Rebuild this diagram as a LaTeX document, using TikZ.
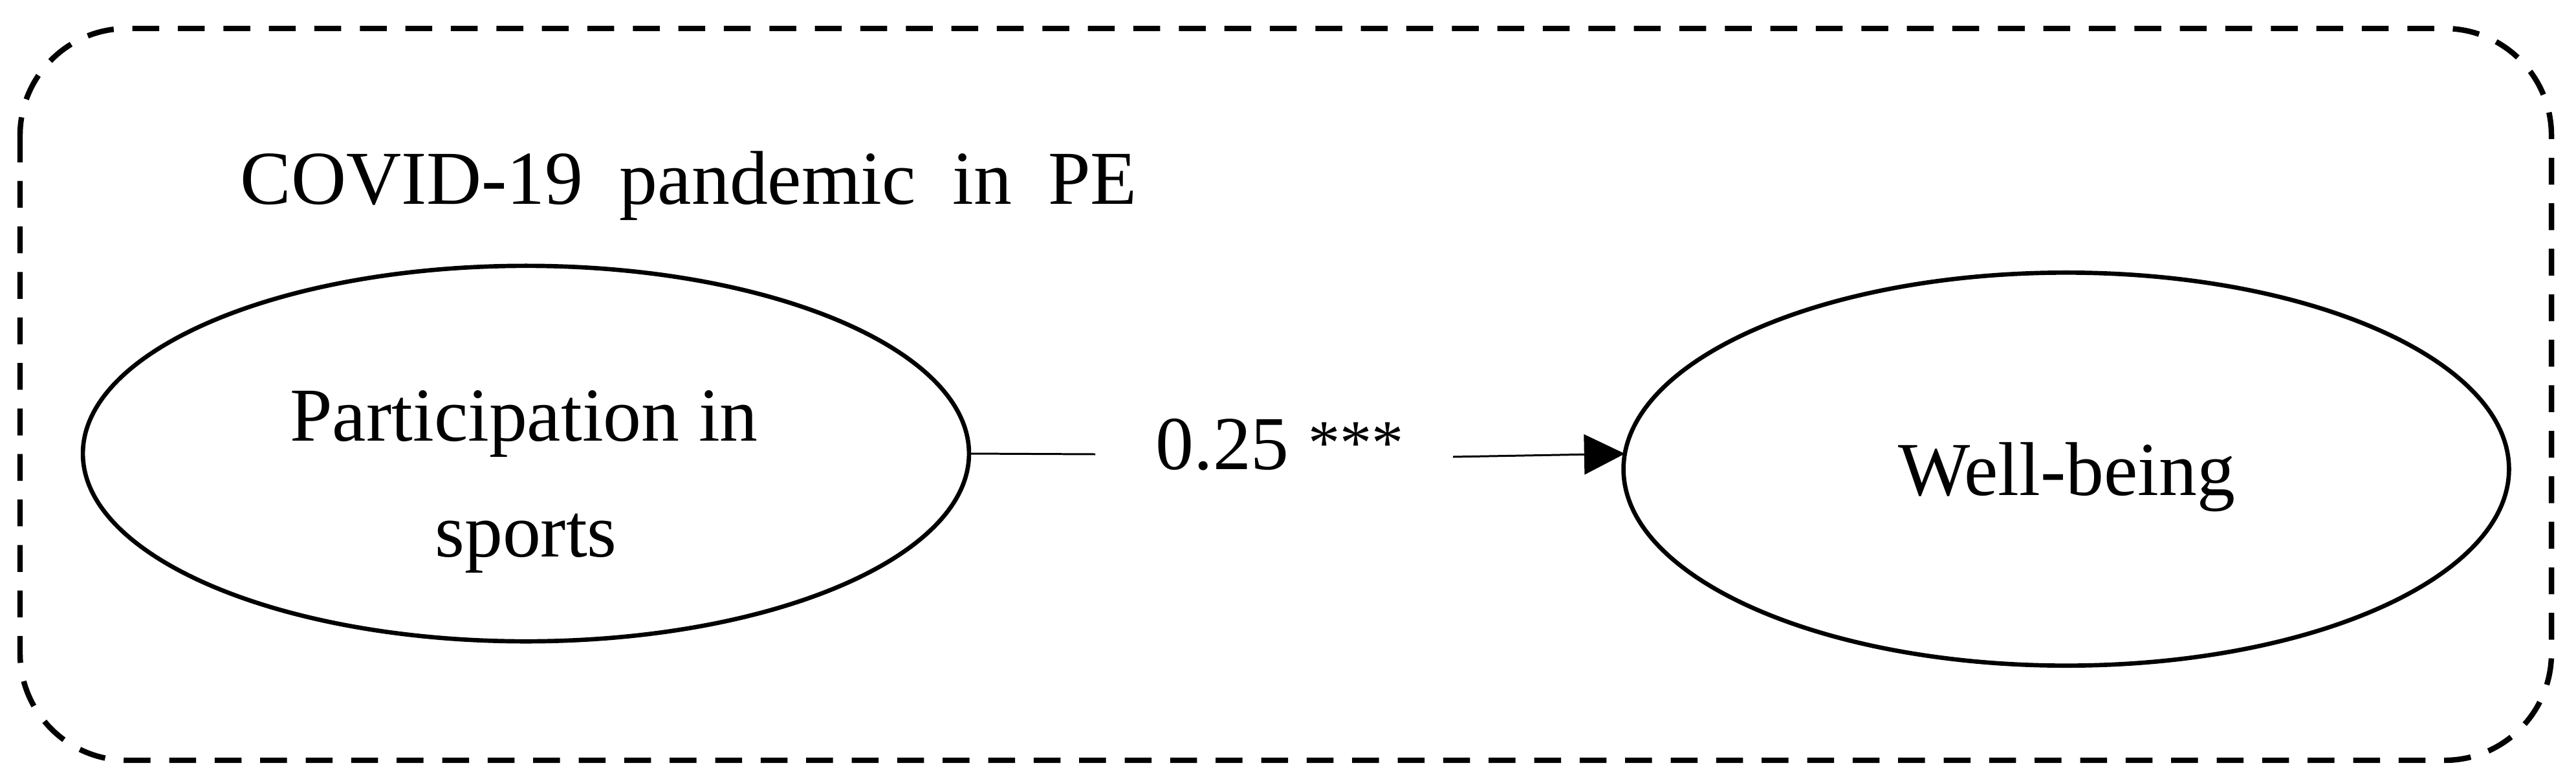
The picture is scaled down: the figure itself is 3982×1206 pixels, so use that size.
\documentclass[tikz,border=0pt]{standalone}
\usepackage{fontspec}
\setmainfont{Liberation Serif}
\usetikzlibrary{arrows.meta,shapes.geometric}
\begin{document}
\begin{tikzpicture}[x=0.01cm,y=-0.01cm,
  frame/.style={draw, line width=2.4pt, dash pattern=on 11.8pt off 8.2pt, rounded corners=47pt},
  bubble/.style={draw, ellipse, line width=1.9pt, inner sep=0pt, outer sep=0pt},
  txt/.style={inner sep=0pt, anchor=base, font=\fontsize{33.5}{40}\selectfont},
  conn/.style={line width=0.85pt},
  arr/.style={conn, -{Triangle[length=17.9pt,width=17.6pt]}}
]
\useasboundingbox (0,0) rectangle (3982,1206);
\draw[frame] (31,44) rectangle (3944,1175);
\node[txt, anchor=base west] (title) at (371,315) {COVID-19\hspace{16pt}pandemic\hspace{16pt}in\hspace{16pt}PE};
\node[bubble, minimum width=13.69cm, minimum height=5.8cm] (L) at (813,701) {};
\node[bubble, minimum width=13.68cm, minimum height=6.07cm] (R) at (3194,725) {};
\node[txt] (Lt1) at (810,681) {Participation in};
\node[txt] (Lt2) at (813,860) {sports};
\node[txt] (Rt) at (3195,765) {Well-being};
\node[txt, anchor=base west] (lbl) at (1786,725) {0.25 \raisebox{2pt}{\fontsize{28}{28}\selectfont ***}};
\coordinate (g1) at (1693,702);
\coordinate (g2) at (2246,706);
\draw[conn] (L.east) -- (g1);
\draw[arr] (g2) -- (R.178.5);
\end{tikzpicture}
\end{document}
